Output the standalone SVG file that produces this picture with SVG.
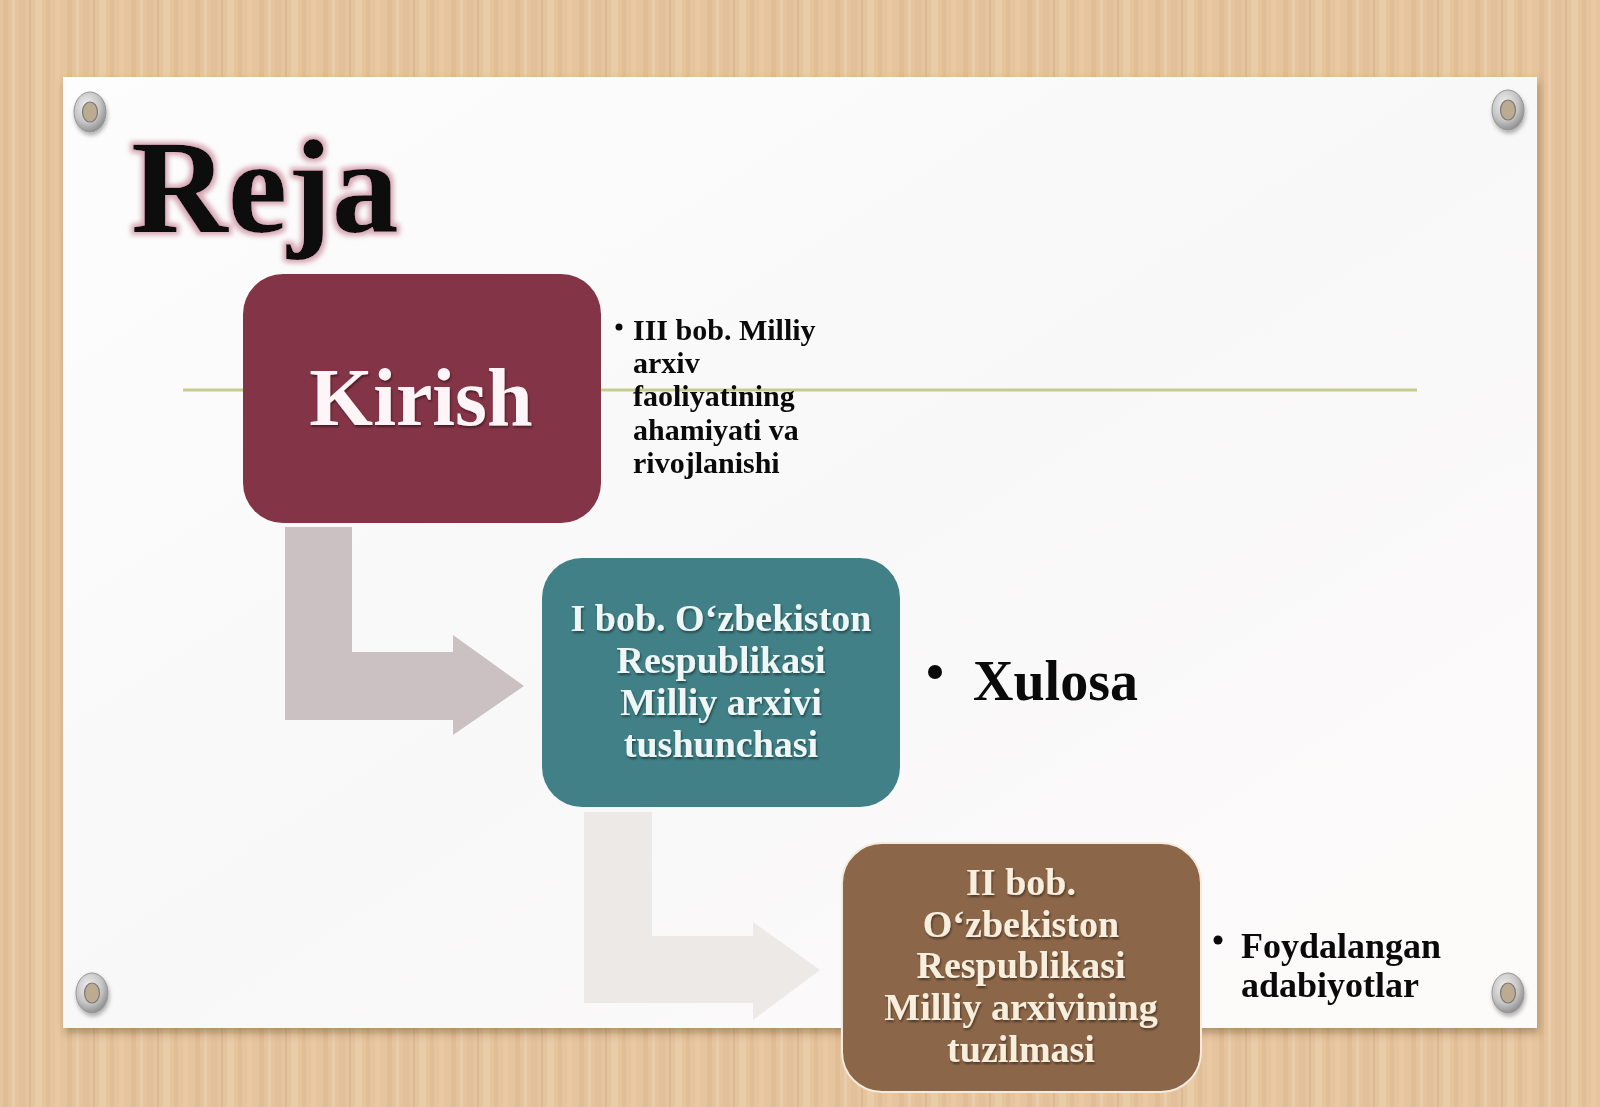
<svg xmlns="http://www.w3.org/2000/svg" width="1600" height="1107" viewBox="0 0 1600 1107">
<defs>
<style>
.serif{font-family:"Liberation Serif","Times New Roman",serif;font-weight:bold}
.dark{fill:#0a0a0a}
.boxtxt{font-size:38px;text-anchor:middle}
.side{font-size:30px}
</style>
<pattern id="wood" x="0" y="0" width="64" height="1107" patternUnits="userSpaceOnUse">
<rect width="64" height="1107" fill="#e6c59e"/>
<rect x="3" width="5" height="1107" fill="#e0bd94"/>
<rect x="12" width="3" height="1107" fill="#eacdaa"/>
<rect x="19" width="6" height="1107" fill="#e3c198"/>
<rect x="29" width="2" height="1107" fill="#ddb98f"/>
<rect x="35" width="7" height="1107" fill="#e9cca8"/>
<rect x="46" width="4" height="1107" fill="#e1be95"/>
<rect x="55" width="5" height="1107" fill="#e8c9a3"/>
</pattern>
<linearGradient id="paper" x1="0" y1="0" x2="1" y2="1">
<stop offset="0" stop-color="#fdfdfd"/>
<stop offset="0.5" stop-color="#f9f8f9"/>
<stop offset="1" stop-color="#fdfbfa"/>
</linearGradient>
<radialGradient id="eye" cx="0.4" cy="0.35" r="0.7">
<stop offset="0" stop-color="#f2f2f2"/>
<stop offset="0.6" stop-color="#c4c4c4"/>
<stop offset="1" stop-color="#888"/>
</radialGradient>
<filter id="shadow" x="-5%" y="-5%" width="110%" height="112%">
<feGaussianBlur in="SourceAlpha" stdDeviation="4"/>
<feOffset dx="2" dy="5" result="o"/>
<feFlood flood-color="#6b4a2a" flood-opacity="0.45"/>
<feComposite in2="o" operator="in" result="s"/>
<feMerge><feMergeNode in="s"/><feMergeNode in="SourceGraphic"/></feMerge>
</filter>
<filter id="glow" x="-10%" y="-10%" width="120%" height="130%">
<feMorphology in="SourceAlpha" operator="dilate" radius="3" result="d"/>
<feGaussianBlur in="d" stdDeviation="2.5" result="b"/>
<feFlood flood-color="#d6a6b3"/>
<feComposite in2="b" operator="in" result="g"/>
<feMerge><feMergeNode in="g"/><feMergeNode in="SourceGraphic"/></feMerge>
</filter>
<filter id="tshadow" x="-5%" y="-20%" width="110%" height="140%">
<feGaussianBlur in="SourceAlpha" stdDeviation="1.2"/>
<feOffset dx="1" dy="2" result="o"/>
<feFlood flood-color="#000" flood-opacity="0.45"/>
<feComposite in2="o" operator="in" result="s"/>
<feMerge><feMergeNode in="s"/><feMergeNode in="SourceGraphic"/></feMerge>
</filter>
<filter id="eyeshadow" x="-50%" y="-50%" width="200%" height="200%">
<feGaussianBlur in="SourceAlpha" stdDeviation="2"/>
<feOffset dx="1" dy="3" result="o"/>
<feFlood flood-color="#000" flood-opacity="0.3"/>
<feComposite in2="o" operator="in" result="s"/>
<feMerge><feMergeNode in="s"/><feMergeNode in="SourceGraphic"/></feMerge>
</filter>
<g id="eyelet">
<ellipse cx="0" cy="0" rx="16" ry="20" fill="url(#eye)" stroke="#969696" stroke-width="1"/>
<ellipse cx="0" cy="0" rx="7.5" ry="10" fill="#bcaa91" stroke="#7a7a7a" stroke-width="1.2"/>
</g>
</defs>

<rect width="1600" height="1107" fill="url(#wood)"/>
<rect x="63" y="77" width="1474" height="951" fill="url(#paper)" filter="url(#shadow)"/>

<g id="eyelets" filter="url(#eyeshadow)">
<use href="#eyelet" x="90" y="112"/>
<use href="#eyelet" x="1508" y="110"/>
<use href="#eyelet" x="92" y="993"/>
<use href="#eyelet" x="1508" y="993"/>
</g>

<g id="title">
<text class="serif dark" x="131" y="232" font-size="134" filter="url(#glow)">Reja</text>
</g>

<g id="divider">
<line x1="183" y1="390" x2="1417" y2="390" stroke="#c6cb8e" stroke-width="3"/>
</g>

<g id="connectors">
<path d="M285,527 H352 V652 H453 V635 L524,686 L453,735 V720 H285 Z" fill="#cbc1c2"/>
<path d="M584,812 H652 V936 H753 V922 L820,970 L753,1020 V1003 H584 Z" fill="#ece9e7"/>
</g>

<g id="node-kirish">
<rect x="243" y="274" width="358" height="249" rx="40" ry="40" fill="#843447"/>
<text class="serif" x="421" y="425" font-size="82" text-anchor="middle" fill="#fdf5f7" filter="url(#tshadow)">Kirish</text>
</g>

<g id="node-bob1">
<rect x="542" y="558" width="358" height="249" rx="40" ry="40" fill="#408086"/>
<g class="serif boxtxt" fill="#eef7f6" filter="url(#tshadow)">
<text x="721" y="631">I bob. O‘zbekiston</text>
<text x="721" y="673">Respublikasi</text>
<text x="721" y="715">Milliy arxivi</text>
<text x="721" y="757">tushunchasi</text>
</g>
</g>

<g id="node-bob2">
<rect x="842" y="843" width="359" height="249" rx="40" ry="40" fill="#8c6648" stroke="#f3ebdd" stroke-width="2"/>
<g class="serif boxtxt" fill="#f7eedd" filter="url(#tshadow)">
<text x="1021" y="895">II bob.</text>
<text x="1021" y="937">O‘zbekiston</text>
<text x="1021" y="978">Respublikasi</text>
<text x="1021" y="1020">Milliy arxivining</text>
<text x="1021" y="1062">tuzilmasi</text>
</g>
</g>

<g id="node-iii">
<circle cx="619" cy="327" r="3.5" fill="#0a0a0a"/>
<g class="serif side dark">
<text x="633" y="340">III bob. Milliy</text>
<text x="633" y="373">arxiv</text>
<text x="633" y="406">faoliyatining</text>
<text x="633" y="440">ahamiyati va</text>
<text x="633" y="473">rivojlanishi</text>
</g>
</g>

<g id="node-xulosa">
<circle cx="935" cy="672" r="7" fill="#0a0a0a"/>
<text class="serif dark" x="973" y="700" font-size="56">Xulosa</text>
</g>

<g id="node-foydalangan">
<circle cx="1218" cy="940" r="4.5" fill="#0a0a0a"/>
<g class="serif dark" font-size="36">
<text x="1241" y="958">Foydalangan</text>
<text x="1241" y="997">adabiyotlar</text>
</g>
</g>
</svg>
